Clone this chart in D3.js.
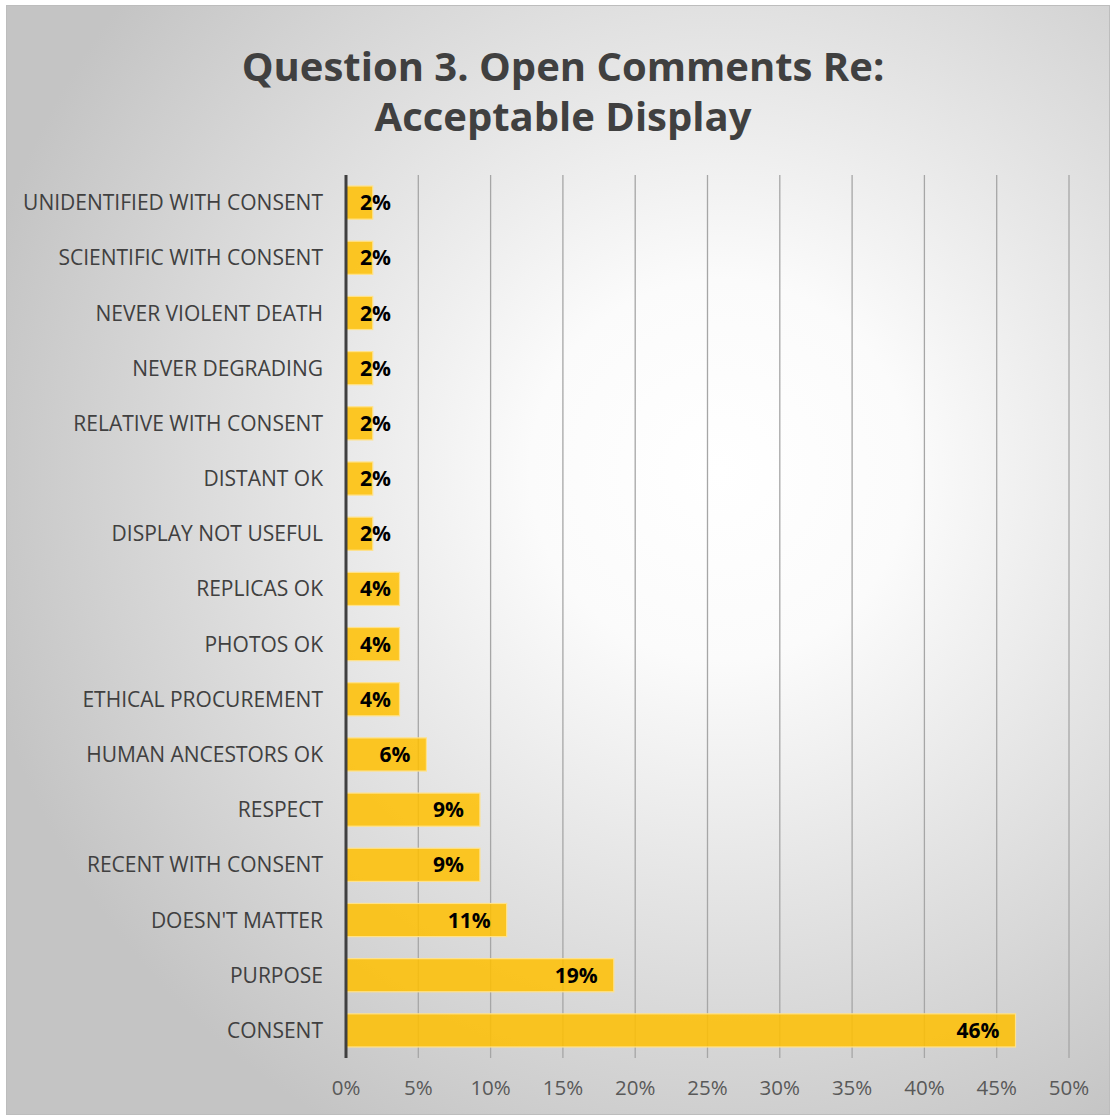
<!DOCTYPE html>
<html>
<head>
<meta charset="utf-8">
<script src="https://cdn.jsdelivr.net/npm/d3@7"></script>
<style>
  html, body { margin: 0; padding: 0; background: #fff; }
  svg { display: block; }
</style>
</head>
<body>
<div id="chart"></div>
<script>
// data
const categories = [
  'UNIDENTIFIED WITH CONSENT',
  'SCIENTIFIC WITH CONSENT',
  'NEVER VIOLENT DEATH',
  'NEVER DEGRADING',
  'RELATIVE WITH CONSENT',
  'DISTANT OK',
  'DISPLAY NOT USEFUL',
  'REPLICAS OK',
  'PHOTOS OK',
  'ETHICAL PROCUREMENT',
  'HUMAN ANCESTORS OK',
  'RESPECT',
  'RECENT WITH CONSENT',
  "DOESN'T MATTER",
  'PURPOSE',
  'CONSENT'
];
const shares = [1.85, 1.85, 1.85, 1.85, 1.85, 1.85, 1.85, 3.7, 3.7, 3.7, 5.56, 9.26, 9.26, 11.11, 18.52, 46.3];
const xTicks = [0, 5, 10, 15, 20, 25, 30, 35, 40, 45, 50];
const titleLines = ['Question 3. Open Comments Re:', 'Acceptable Display'];

const width = 1111;
const height = 1116;
const font = '"Open Sans", "DejaVu Sans", sans-serif';

const svg = d3.select('#chart').append('svg')
  .attr('width', width)
  .attr('height', height);

// background gradient
const defs = svg.append('defs');
const grad = defs.append('radialGradient')
  .attr('id', 'bg')
  .attr('gradientUnits', 'userSpaceOnUse')
  .attr('cx', 720).attr('cy', 470).attr('r', 760);
grad.append('stop').attr('offset', '0%').attr('stop-color', '#ffffff');
grad.append('stop').attr('offset', '25%').attr('stop-color', '#fbfbfb');
grad.append('stop').attr('offset', '100%').attr('stop-color', '#c4c4c4');

svg.append('rect')
  .attr('x', 6.5).attr('y', 5.5)
  .attr('width', width - 8).attr('height', height - 7)
  .attr('fill', 'url(#bg)')
  .attr('stroke', '#bdbdbd')
  .attr('stroke-width', 1);

// title
svg.append('g')
  .selectAll('text')
  .data(titleLines)
  .enter().append('text')
  .attr('x', 563)
  .attr('y', (d, i) => 81 + i * 50)
  .attr('text-anchor', 'middle')
  .attr('font-family', font)
  .attr('font-weight', 'bold')
  .attr('font-size', 40)
  .attr('fill', '#404040')
  .text(d => d);

// scales
const plotLeft = 346;
const plotRight = 1069;
const plotTop = 175;
const plotBottom = 1058;

const scaleX = d3.scaleLinear().domain([0, 50]).range([plotLeft, plotRight]);
const scaleY = d3.scaleBand().domain(categories).range([plotTop, plotBottom]).paddingInner(0.4).paddingOuter(0.2);

// gridlines
svg.append('g')
  .selectAll('line')
  .data(xTicks.filter(d => d > 0))
  .enter().append('line')
  .attr('x1', d => scaleX(d)).attr('x2', d => scaleX(d))
  .attr('y1', plotTop).attr('y2', plotBottom)
  .attr('stroke', '#a6a6a6')
  .attr('stroke-width', 1.3);

// bars
svg.append('g')
  .selectAll('rect')
  .data(shares)
  .enter().append('rect')
  .attr('class', 'bar')
  .attr('x', scaleX(0))
  .attr('y', (d, i) => scaleY(categories[i]))
  .attr('width', d => scaleX(d) - scaleX(0))
  .attr('height', scaleY.bandwidth())
  .attr('fill', '#ffc000')
  .attr('fill-opacity', 0.85)
  .attr('stroke', '#ffe28a')
  .attr('stroke-width', 1.2);

// axis line
svg.append('line')
  .attr('x1', plotLeft).attr('x2', plotLeft)
  .attr('y1', plotTop).attr('y2', plotBottom)
  .attr('stroke', '#404040')
  .attr('stroke-width', 3);

// value labels
svg.append('g')
  .selectAll('text')
  .data(shares)
  .enter().append('text')
  .attr('class', 'label')
  .attr('x', d => Math.max(scaleX(d) - 16, plotLeft + 45))
  .attr('y', (d, i) => scaleY(categories[i]) + scaleY.bandwidth() / 2)
  .attr('dy', '0.36em')
  .attr('text-anchor', 'end')
  .attr('font-family', font)
  .attr('font-weight', 'bold')
  .attr('font-size', 21)
  .attr('fill', '#000')
  .text(d => Math.round(d) + '%');

// category labels
svg.append('g')
  .selectAll('text')
  .data(categories)
  .enter().append('text')
  .attr('x', 323)
  .attr('y', d => scaleY(d) + scaleY.bandwidth() / 2)
  .attr('dy', '0.36em')
  .attr('text-anchor', 'end')
  .attr('font-family', font)
  .attr('font-size', 21)
  .attr('fill', '#404040')
  .text(d => d);

// x tick labels
svg.append('g')
  .selectAll('text')
  .data(xTicks)
  .enter().append('text')
  .attr('x', d => scaleX(d))
  .attr('y', 1088)
  .attr('dy', '0.36em')
  .attr('text-anchor', 'middle')
  .attr('font-family', font)
  .attr('font-size', 20.5)
  .attr('fill', '#595959')
  .text(d => d + '%');
</script>
</body>
</html>
